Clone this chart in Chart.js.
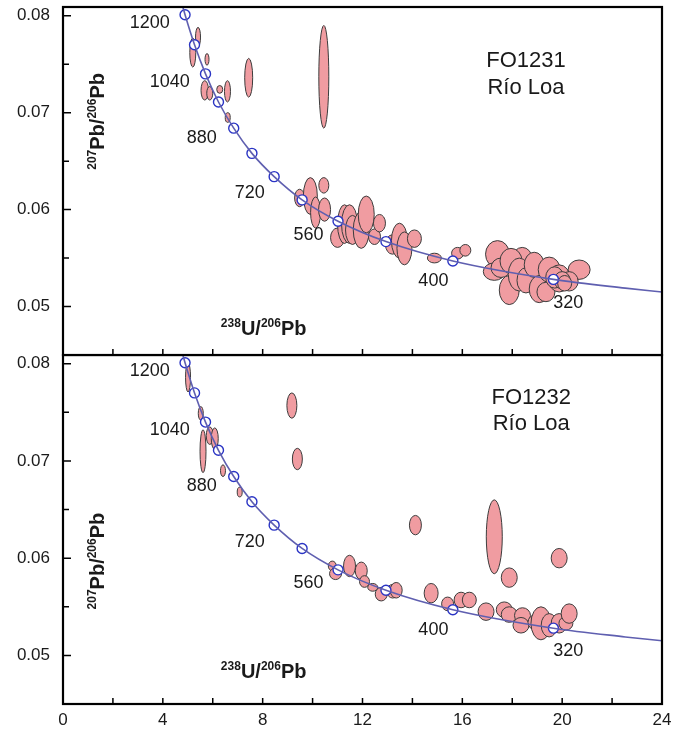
<!DOCTYPE html>
<html>
<head>
<meta charset="utf-8">
<script src="https://cdn.jsdelivr.net/npm/chart.js@4.4.1/dist/chart.umd.min.js"></script>
<style>
  html, body { margin: 0; padding: 0; background: #fff; }
  .panel { position: absolute; left: 0; width: 684px; }
</style>
</head>
<body>
<div class="panel" style="top:0;height:357px"><canvas id="topChart"></canvas></div>
<div class="panel" style="top:354px;height:383px"><canvas id="bottomChart"></canvas></div>
<script>
// concordia age markers (Ma) and their positions
const ages = [1200, 1120, 1040, 960, 880, 800, 720, 640, 560, 480, 400, 320];
const concX = [4.89, 5.27, 5.71, 6.23, 6.84, 7.57, 8.46, 9.58, 11.02, 12.94, 15.62, 19.65];
const concY = [0.0801, 0.0770, 0.0740, 0.0711, 0.0684, 0.0658, 0.0634, 0.0610, 0.0588, 0.0567, 0.0547, 0.0528];

// concordia line, running past the markers to the frame
const curveX = [4.78, 4.89, 5.27, 5.71, 6.23, 6.84, 7.57, 8.46, 9.58, 11.02, 12.94, 15.62, 19.65, 22.53, 24.0];
const curveY = [0.0811, 0.0801, 0.0770, 0.0740, 0.0711, 0.0684, 0.0658, 0.0634, 0.0610, 0.0588, 0.0567, 0.0547, 0.0528, 0.0519, 0.0515];

// age labels written next to the curve
const labelText = ["1200", "1040", "880", "720", "560", "400", "320"];
const labelX = [3.48, 4.28, 5.56, 7.48, 9.84, 14.84, 20.24];
const labelY = [0.0792, 0.0732, 0.0674, 0.0617, 0.0574, 0.0526, 0.0504];

const xTickLabels = [0, 4, 8, 12, 16, 20, 24];
const yTickLabels = [0.05, 0.06, 0.07, 0.08];

// error ellipses: [x, y, half-width x, half-height y]
const topEllipses = [
  [5.41, 0.0778, 0.10, 0.0010], [5.20, 0.0762, 0.12, 0.0015], [5.77, 0.0755, 0.08, 0.0006],
  [5.68, 0.0723, 0.15, 0.0010], [5.88, 0.0720, 0.12, 0.0007], [6.28, 0.0724, 0.12, 0.0004],
  [6.59, 0.0722, 0.12, 0.0011], [6.60, 0.0695, 0.10, 0.0005], [7.44, 0.0736, 0.16, 0.0020],
  [10.45, 0.0737, 0.20, 0.0053],
  [9.48, 0.0612, 0.20, 0.0009], [9.91, 0.0614, 0.28, 0.0019], [10.45, 0.0625, 0.20, 0.0008],
  [10.12, 0.0597, 0.20, 0.0016], [10.48, 0.0600, 0.24, 0.0012], [11.00, 0.0571, 0.28, 0.0010],
  [11.28, 0.0585, 0.28, 0.0020], [11.48, 0.0585, 0.32, 0.0020], [11.60, 0.0579, 0.28, 0.0015],
  [11.95, 0.0579, 0.32, 0.0019], [12.15, 0.0595, 0.32, 0.0019], [12.48, 0.0572, 0.24, 0.0008],
  [12.68, 0.0586, 0.24, 0.0009], [13.20, 0.0564, 0.28, 0.0010], [13.48, 0.0568, 0.32, 0.0018],
  [13.68, 0.0560, 0.30, 0.0017], [14.08, 0.0570, 0.28, 0.0009], [14.88, 0.0550, 0.28, 0.0005],
  [15.81, 0.0555, 0.24, 0.0006], [16.12, 0.0558, 0.22, 0.0006],
  [17.41, 0.0554, 0.48, 0.0014], [17.28, 0.0536, 0.44, 0.0009], [17.55, 0.0540, 0.40, 0.0010],
  [18.40, 0.0549, 0.40, 0.0012], [17.95, 0.0547, 0.44, 0.0013], [17.88, 0.0517, 0.40, 0.0015],
  [18.28, 0.0533, 0.44, 0.0017], [18.55, 0.0527, 0.36, 0.0013], [18.88, 0.0543, 0.40, 0.0013],
  [19.08, 0.0518, 0.40, 0.0014], [19.35, 0.0515, 0.36, 0.0010], [19.48, 0.0538, 0.44, 0.0013],
  [19.88, 0.0529, 0.44, 0.0014], [20.68, 0.0538, 0.44, 0.0010], [20.28, 0.0526, 0.36, 0.0010],
  [19.70, 0.0530, 0.36, 0.0011], [20.00, 0.0527, 0.32, 0.0009], [20.10, 0.0524, 0.28, 0.0008]
];

const bottomEllipses = [
  [5.01, 0.0786, 0.10, 0.0015], [5.52, 0.0749, 0.10, 0.0007], [5.61, 0.0710, 0.12, 0.0022],
  [5.88, 0.0726, 0.14, 0.0009], [6.08, 0.0723, 0.14, 0.0011], [6.41, 0.0690, 0.10, 0.0006],
  [7.08, 0.0668, 0.10, 0.0005], [9.17, 0.0757, 0.20, 0.0013], [9.39, 0.0702, 0.20, 0.0011],
  [10.79, 0.0592, 0.16, 0.0005], [10.92, 0.0584, 0.24, 0.0006], [11.48, 0.0592, 0.24, 0.0011],
  [11.95, 0.0587, 0.24, 0.0009], [12.08, 0.0576, 0.20, 0.0006], [12.41, 0.0570, 0.20, 0.0004],
  [12.75, 0.0563, 0.24, 0.0007], [13.21, 0.0566, 0.24, 0.0007], [13.35, 0.0567, 0.24, 0.0008],
  [14.12, 0.0634, 0.24, 0.0010], [14.75, 0.0564, 0.28, 0.0010], [15.41, 0.0553, 0.24, 0.0007],
  [15.95, 0.0557, 0.28, 0.0008], [16.28, 0.0557, 0.28, 0.0008], [16.95, 0.0545, 0.32, 0.0009],
  [17.28, 0.0622, 0.32, 0.0038], [17.88, 0.0580, 0.32, 0.0010], [19.88, 0.0600, 0.32, 0.0010],
  [17.68, 0.0547, 0.32, 0.0008], [17.88, 0.0542, 0.32, 0.0008], [18.41, 0.0541, 0.32, 0.0008],
  [18.35, 0.0531, 0.32, 0.0008], [18.95, 0.0534, 0.32, 0.0008], [19.15, 0.0533, 0.40, 0.0017],
  [19.48, 0.0531, 0.32, 0.0012], [19.88, 0.0533, 0.32, 0.0010], [20.15, 0.0533, 0.28, 0.0007],
  [20.28, 0.0543, 0.32, 0.0010]
];

const FONT = '"Liberation Sans", Arial, sans-serif';
const INK = "#1a1a1a";

function isMultiple(v, step) {
  const r = v / step;
  return Math.abs(r - Math.round(r)) < 1e-6;
}

// text with superscript parts, centred on (0,0) of the current transform
function drawSupText(ctx, parts, size, supSize) {
  let total = 0;
  parts.forEach(p => {
    ctx.font = "bold " + (p[1] ? supSize : size) + "px " + FONT;
    total += ctx.measureText(p[0]).width;
  });
  let x = -total / 2;
  const base = size * 0.36;
  ctx.textAlign = "left";
  ctx.textBaseline = "alphabetic";
  parts.forEach(p => {
    ctx.font = "bold " + (p[1] ? supSize : size) + "px " + FONT;
    ctx.fillText(p[0], x, p[1] ? base - size * 0.42 : base);
    x += ctx.measureText(p[0]).width;
  });
}

function decorPlugin(ellipses, sample, sampleX, sampleY, titles) {
  return {
    id: "decor",
    beforeDatasetsDraw(chart) {
      const { ctx, chartArea: a, scales: { x, y } } = chart;
      ctx.save();
      ctx.beginPath();
      ctx.rect(a.left, a.top, a.right - a.left, a.bottom - a.top);
      ctx.clip();
      ellipses.forEach(([ex, ey, sx, sy]) => {
        const cx = x.getPixelForValue(ex), cy = y.getPixelForValue(ey);
        const rx = Math.abs(x.getPixelForValue(ex + sx) - cx);
        const ry = Math.abs(y.getPixelForValue(ey + sy) - cy);
        ctx.beginPath();
        ctx.ellipse(cx, cy, rx, ry, 0, 0, Math.PI * 2);
        ctx.fillStyle = "#f09ca1";
        ctx.fill();
        ctx.lineWidth = 1;
        ctx.strokeStyle = "#3c3c3c";
        ctx.stroke();
      });
      ctx.restore();
    },
    afterDraw(chart) {
      const { ctx, chartArea: a, scales: { x, y } } = chart;
      ctx.save();
      // inward ticks
      ctx.strokeStyle = "#000";
      ctx.lineWidth = 1.5;
      ctx.beginPath();
      y.ticks.forEach(t => {
        const py = y.getPixelForValue(t.value);
        ctx.moveTo(a.left, py);
        ctx.lineTo(a.left + (isMultiple(t.value, 0.01) ? 8 : 6), py);
      });
      x.ticks.forEach(t => {
        if (t.value <= 0 || t.value >= 24) return;
        const px = x.getPixelForValue(t.value);
        ctx.moveTo(px, a.bottom);
        ctx.lineTo(px, a.bottom - 6);
      });
      ctx.stroke();
      // frame
      ctx.lineWidth = 2.2;
      ctx.strokeRect(a.left, a.top, a.right - a.left, a.bottom - a.top);

      // age labels
      ctx.fillStyle = INK;
      ctx.font = "18px " + FONT;
      ctx.textAlign = "center";
      ctx.textBaseline = "middle";
      labelText.forEach((s, i) => {
        ctx.fillText(s, x.getPixelForValue(labelX[i]), y.getPixelForValue(labelY[i]));
      });

      // sample name
      ctx.font = "22px " + FONT;
      ctx.fillText(sample[0], x.getPixelForValue(sampleX), y.getPixelForValue(sampleY[0]));
      ctx.fillText(sample[1], x.getPixelForValue(sampleX), y.getPixelForValue(sampleY[1]));

      // axis titles inside the plot
      ctx.save();
      ctx.translate(x.getPixelForValue(8.04), y.getPixelForValue(titles.xTitleY));
      drawSupText(ctx, [["238", true], ["U/", false], ["206", true], ["Pb", false]], 20, 12);
      ctx.restore();
      ctx.save();
      ctx.translate(x.getPixelForValue(1.36), y.getPixelForValue(titles.yTitleY));
      ctx.rotate(-Math.PI / 2);
      drawSupText(ctx, [["207", true], ["Pb/", false], ["206", true], ["Pb", false]], 20, 12);
      ctx.restore();
      ctx.restore();
    }
  };
}

function noPadding(s) {
  s.paddingTop = 0;
  s.paddingBottom = 0;
  s.paddingLeft = 0;
  s.paddingRight = 0;
}

function makePanel(id, ellipses, sample, sampleX, sampleY, titles, showX) {
  new Chart(document.getElementById(id), {
    data: {
      datasets: [
        {
          type: "line",
          data: curveX.map((v, i) => ({ x: v, y: curveY[i] })),
          borderColor: "#5f5fb0",
          borderWidth: 1.6,
          pointRadius: 0,
          cubicInterpolationMode: "monotone",
          fill: false
        },
        {
          type: "scatter",
          data: concX.map((v, i) => ({ x: v, y: concY[i] })),
          pointRadius: 5,
          pointBackgroundColor: "#ffffff",
          pointBorderColor: "#2a34c4",
          pointBorderWidth: 1.4,
          clip: false
        }
      ]
    },
    options: {
      responsive: true,
      maintainAspectRatio: false,
      animation: false,
      events: [],
      layout: {
        autoPadding: false,
        padding: { top: showX ? 1 : 7, right: 22, left: 0, bottom: showX ? 0 : 2 }
      },
      plugins: { legend: { display: false }, tooltip: { enabled: false } },
      scales: {
        x: {
          type: "linear",
          min: 0,
          max: 24,
          grid: { display: false, drawTicks: false },
          border: { display: false },
          ticks: {
            display: showX,
            stepSize: 2,
            autoSkip: false,
            maxRotation: 0,
            padding: 6,
            color: INK,
            font: { family: FONT, size: 17 },
            callback: v => (xTickLabels.includes(v) ? String(v) : "")
          },
          afterFit: s => { s.height = showX ? 33 : 0; noPadding(s); }
        },
        y: {
          type: "linear",
          min: 0.045,
          max: 0.0809,
          grid: { display: false, drawTicks: false },
          border: { display: false },
          ticks: {
            stepSize: 0.005,
            includeBounds: false,
            autoSkip: false,
            padding: 13,
            color: INK,
            font: { family: FONT, size: 17 },
            callback: v => (yTickLabels.some(t => Math.abs(t - v) < 1e-7) ? v.toFixed(2) : "")
          },
          afterFit: s => { s.width = 63; noPadding(s); }
        }
      }
    },
    plugins: [decorPlugin(ellipses, sample, sampleX, sampleY, titles)]
  });
}

makePanel("topChart", topEllipses, ["FO1231", "Río Loa"], 18.55, [0.0753, 0.0725],
  { xTitleY: 0.0478, yTitleY: 0.0691 }, false);
makePanel("bottomChart", bottomEllipses, ["FO1232", "Río Loa"], 18.76, [0.0765, 0.0738],
  { xTitleY: 0.0484, yTitleY: 0.0597 }, true);
</script>
</body>
</html>
